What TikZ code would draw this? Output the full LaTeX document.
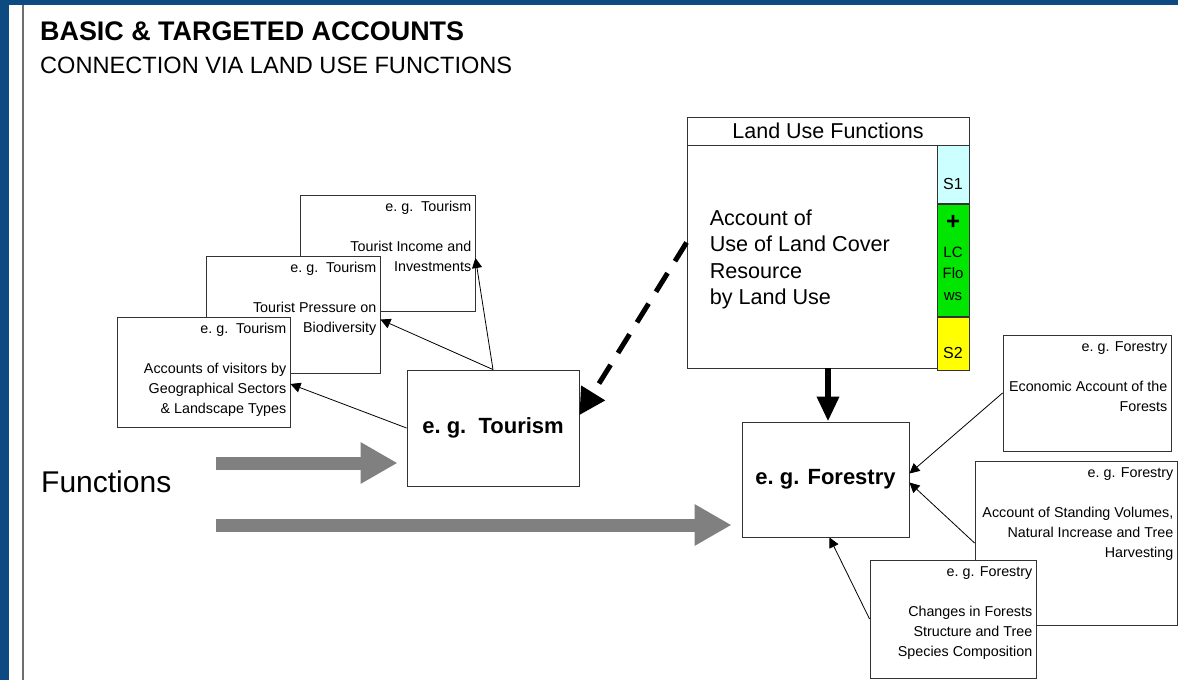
\documentclass[tikz,border=0pt]{standalone}
\usepackage{fontspec}
\setmainfont{Liberation Sans}
\usetikzlibrary{arrows.meta,calc}

\definecolor{slideblue}{RGB}{14,74,130}
\definecolor{framegray}{RGB}{110,110,110}
\definecolor{sonecyan}{RGB}{204,255,255}
\definecolor{flowgreen}{RGB}{0,230,0}
\definecolor{stwoyellow}{RGB}{255,255,0}
\definecolor{arrowgray}{RGB}{128,128,128}

\begin{document}
\begin{tikzpicture}[x=1pt,y=-1pt,
  acc/.style 2 args={draw=black!80, line width=0.9pt, fill=white, minimum width=#1, minimum height=#2, inner sep=0pt},
  cell/.style={draw=black!80, line width=0.9pt, minimum width=32pt, inner sep=0pt, anchor=north east},
  small/.style={font=\fontsize{14.3}{20}\selectfont, align=right, inner sep=0pt, anchor=north east},
  big/.style={font=\bfseries\fontsize{22}{26}\selectfont},
  link/.style={draw=black, line width=0.8pt, -{Triangle[length=10pt,width=10pt]}},
  dashlink/.style={draw=black, line width=5pt, dash pattern=on 22pt off 14pt, -{Triangle[length=26pt,width=27pt]}},
  mainlink/.style={draw=black, line width=6.5pt, -{Triangle[length=25pt,width=21pt]}},
  flowarrow/.style={draw=arrowgray, line width=13pt, -{Triangle[length=37pt,width=39pt]}}]
\useasboundingbox (0,0) rectangle (1178,680);
% slide frame
\fill[slideblue] (0,0) rectangle (1178,680);
\fill[white] (9,5) rectangle (1178,680);
\draw[framegray, line width=2pt] (23,5) -- (23,680);
% title
\node[anchor=base west, inner sep=0pt, font=\bfseries\fontsize{26.9}{30}\selectfont] (title) at (40,40) {BASIC \& TARGETED ACCOUNTS};
\node[anchor=base west, inner sep=0pt, font=\fontsize{23.6}{30}\selectfont] (subtitle) at (40,73) {CONNECTION VIA LAND USE FUNCTIONS};

% tourism accounts (back to front)
\node[acc={175pt}{116pt}] (inc) at (387.5,253) {};
\node[small] (inc-t) at ([xshift=-4pt,yshift=-6pt]inc.north east) {e.~g.\ \ Tourism\\[20pt]Tourist Income and\\Investments};
\node[acc={174pt}{117pt}] (pres) at (293,314.5) {};
\node[small] (pres-t) at ([xshift=-4pt,yshift=-6pt]pres.north east) {e.~g.\ \ Tourism\\[20pt]Tourist Pressure on\\Biodiversity};
\node[acc={173pt}{110pt}] (vis) at (203.5,372) {};
\node[small] (vis-t) at ([xshift=-4pt,yshift=-6pt]vis.north east) {e.~g.\ \ Tourism\\[20pt]Accounts of visitors by\\Geographical Sectors\\\& Landscape Types};
\node[acc={172pt}{116pt}, big] (tour) at (493,428) {e.~g.\ \ Tourism};

% land use functions
\node[acc={282pt}{251pt}] (luf) at (828,242.5) {};
\node[acc={282pt}{28pt}, anchor=north, font=\fontsize{21.5}{24}\selectfont] (luf-h) at (luf.north) {Land Use Functions};
\node[anchor=north west, align=left, inner sep=0pt, font=\fontsize{21.6}{26.5}\selectfont] (luf-t) at ([xshift=23pt,yshift=-93pt]luf.north west) {Account of\\Use of Land Cover\\Resource\\by Land Use};
\node[cell, fill=sonecyan, minimum height=58pt] (s1) at (luf-h.south east) {};
\node[cell, fill=flowgreen, minimum height=112pt] (lc) at (s1.south east) {};
\node[cell, fill=stwoyellow, minimum height=53pt] (s2) at (lc.south east) {};
\node[font=\fontsize{16}{18}\selectfont, inner sep=0pt] (s1-t) at ([yshift=20pt]s1.south) {S1};
\node[font=\bfseries\fontsize{24}{24}\selectfont, inner sep=0pt] (lc-p) at ([yshift=-18pt]lc.north) {+};
\node[font=\fontsize{15}{21.5}\selectfont, align=center, inner sep=0pt, anchor=north] (lc-t) at ([yshift=-42pt]lc.north) {LC\\Flo\\ws};
\node[font=\fontsize{16}{18}\selectfont, inner sep=0pt] (s2-t) at ([yshift=18pt]s2.south) {S2};

% forestry accounts
\node[acc={168pt}{116pt}] (forA) at (1087,393) {};
\node[small] (forA-t) at ([xshift=-4pt,yshift=-6.5pt]forA.north east) {e.~g. Forestry\\[20pt]Economic Account of the\\Forests};
\node[acc={202pt}{164pt}] (forB) at (1076,543) {};
\node[small] (forB-t) at ([xshift=-4pt,yshift=-6.5pt]forB.north east) {e.~g. Forestry\\[20pt]Account of Standing Volumes,\\Natural Increase and Tree\\Harvesting};
\node[acc={166pt}{118pt}] (forC) at (953,619) {};
\node[small] (forC-t) at ([xshift=-4pt,yshift=-6.5pt]forC.north east) {e.~g. Forestry\\[20pt]Changes in Forests\\Structure and Tree\\Species Composition};
\node[acc={167pt}{115pt}, big] (forest) at (825.5,479.5) {e.~g. Forestry};

% functions
\node[anchor=base west, inner sep=0pt, font=\fontsize{30}{32}\selectfont] (fn) at (41,492) {Functions};
\coordinate (g1) at (216,463);
\coordinate (g2) at (216,525);
\draw[flowarrow] (g1) -- ($(g1 -| tour.west)+(-9,0)$);
\draw[flowarrow] (g2) -- ($(g2 -| forest.west)+(-10,0)$);

% connectors
\draw[link] (tour.north) -- ([yshift=-5pt]inc.east);
\draw[link] (tour.north) -- ([yshift=-5pt]pres.east);
\draw[link] (tour.west) -- ([yshift=-12pt]vis.east);
\draw[dashlink] (luf.west) -- ([yshift=13pt]tour.east);
\draw[mainlink] (luf.south) -- (luf.south |- forest.north);
\draw[link] (forA.west) -- ([yshift=6pt]forest.east);
\draw[link] (forB.west) -- ([yshift=-3pt]forest.east);
\draw[link] (forC.west) -- ([xshift=4pt]forest.south);
\end{tikzpicture}
\end{document}
